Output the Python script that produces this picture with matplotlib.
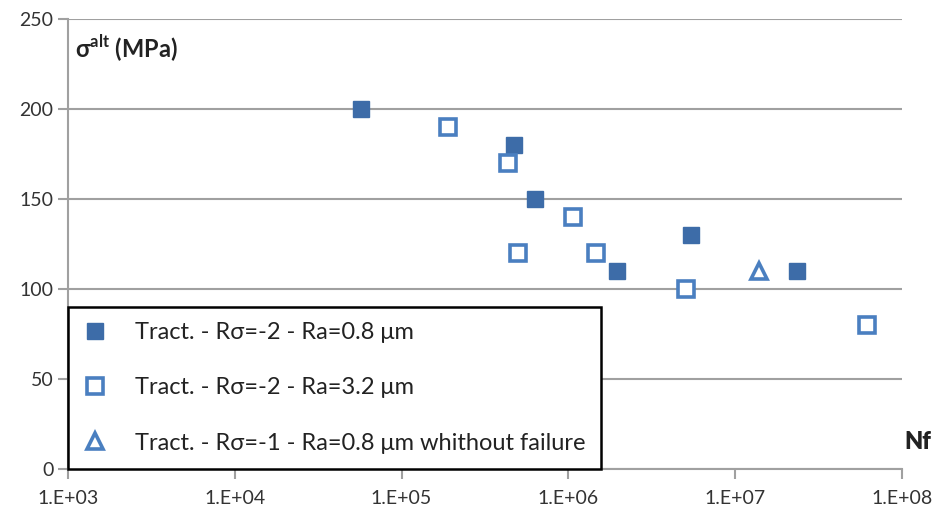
import matplotlib.pyplot as plt
import numpy as np

plt.rcParams['font.family'] = ['Lato', 'DejaVu Sans']
plt.rcParams['mathtext.fontset'] = 'custom'
plt.rcParams['mathtext.rm'] = 'Lato'
plt.rcParams['mathtext.bf'] = 'Lato:bold'

# fatigue data: cycles to failure vs alternating stress
nf_08 = [5.7e4, 4.7e5, 6.3e5, 1.95e6, 5.4e6, 2.35e7]
s_08 = [200, 180, 150, 110, 130, 110]
nf_32 = [1.9e5, 4.35e5, 5.0e5, 1.07e6, 1.46e6, 5.1e6, 6.2e7]
s_32 = [190, 170, 120, 140, 120, 100, 80]
nf_run = [1.39e7]
s_run = [110]

labels = ["Tract. - R\u03c3=-2 - Ra=0.8 \u03bcm",
          "Tract. - R\u03c3=-2 - Ra=3.2 \u03bcm",
          "Tract. - R\u03c3=-1 - Ra=0.8 \u03bcm whithout failure"]

dark = "#3d6ca8"
light = "#4a7fc0"
grey = "#a0a0a0"

fig = plt.figure(figsize=(9.35, 5.11), dpi=100)
ax = fig.add_axes([0.0727, 0.0822, 0.892, 0.8806])

ax.set_xscale("log")
ax.set_xlim(1e3, 1e8)
ax.set_ylim(0, 250)
ax.set_yticks(np.arange(0, 251, 50))
ax.set_xticks([1e3, 1e4, 1e5, 1e6, 1e7, 1e8])
ax.set_xticklabels(["1.E+03", "1.E+04", "1.E+05", "1.E+06", "1.E+07", "1.E+08"])
ax.minorticks_off()
ax.yaxis.grid(True, color=grey, lw=1.5)
ax.set_axisbelow(True)

for side in ["top", "right"]:
    ax.spines[side].set_visible(False)
for side in ["left", "bottom"]:
    ax.spines[side].set_color(grey)
    ax.spines[side].set_linewidth(1.5)
ax.tick_params(axis="both", colors=grey, width=1.5, length=7, labelsize=14,
               labelcolor="#333333")
ax.tick_params(axis="x", pad=8)

h1, = ax.plot(nf_08, s_08, ls="none", marker="s", ms=12, mfc=dark, mec=dark,
              label=labels[0], zorder=3)
h2, = ax.plot(nf_32, s_32, ls="none", marker="s", ms=11, mfc="white", mec=light,
              mew=2.6, label=labels[1], zorder=3)
h3, = ax.plot(nf_run, s_run, ls="none", marker="^", ms=11, mfc="white", mec=light,
              mew=2.6, label=labels[2], zorder=3)

ax.text(0.008, 0.915, "\u03c3$^{\\mathbf{alt}}$ (MPa)", transform=ax.transAxes,
        fontsize=17, fontweight="bold", color="#222222")
ax.text(1.003, 0.045, "Nf", transform=ax.transAxes, fontsize=17, fontweight="heavy",
        color="#222222", ha="left")

leg = ax.legend(handles=[h1, h2, h3], loc="lower left", bbox_to_anchor=(0.0, 0.0),
                fontsize=17, labelspacing=1.45, handletextpad=1.2, borderpad=0.65,
                borderaxespad=0.0, fancybox=False, framealpha=1, edgecolor="black",
                handlelength=1.0)
leg.get_frame().set_linewidth(1.8)
for t in leg.get_texts():
    t.set_color("#222222")

fig.savefig("out.png", dpi=100)
